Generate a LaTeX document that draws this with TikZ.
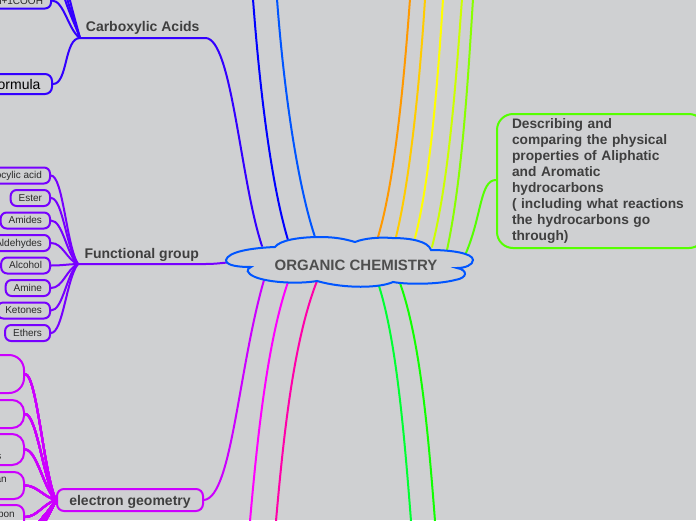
\documentclass[tikz,border=0pt]{standalone}
\usepackage{fontspec}
\setmainfont{Liberation Sans}
\usetikzlibrary{calc}
\definecolor{paper}{HTML}{CFD0D2}
\definecolor{ink}{HTML}{3F3F3F}
\definecolor{leafink}{HTML}{2A2A2A}
\definecolor{cloudblue}{HTML}{0055FF}
\definecolor{acidblue}{HTML}{3300FF}
\definecolor{groupviolet}{HTML}{7700FF}
\definecolor{geompurple}{HTML}{CC00FF}
\definecolor{physgreen}{HTML}{55FF00}
\definecolor{lineorange}{HTML}{FF9900}
\definecolor{lineamber}{HTML}{FFCC00}
\definecolor{lineyellow}{HTML}{FFFF00}
\definecolor{linelime}{HTML}{CCFF00}
\definecolor{linegrass}{HTML}{88FF00}
\definecolor{linemagenta}{HTML}{FF00FF}
\definecolor{linepink}{HTML}{FF00AA}
\definecolor{linegreen}{HTML}{00FF33}
\definecolor{linegreenb}{HTML}{11FF00}
\tikzset{
	conn/.style = {line width = 2pt, line cap = round},
	leaf/.style = {draw, line width = 2pt, rounded corners = 6pt, anchor = east, minimum height = 16pt, inner xsep = 8pt, inner ysep = 0pt, text height = 8pt, text depth = 2pt, text = leafink, font = \fontsize{10}{12}\selectfont},
	branch/.style = {anchor = south west, minimum width = 125pt, text height = 10pt, text depth = 3pt, inner xsep = 0pt, inner ysep = 3.5pt, text = ink, font = \bfseries\fontsize{14}{16}\selectfont},
	geombox/.style = {draw = geompurple, line width = 2pt, anchor = east, minimum width = 80pt, inner sep = 0pt},
	crop/.style = {anchor = east, inner sep = 0pt, text = leafink, font = \fontsize{10}{12}\selectfont}
}
\newcommand\child[3]{\draw[conn, #1] (#2) .. controls +(12, 0) and ($(#3)!0.2!(#2) + (-6, 0)$) .. (#3);}
\newcommand\topline[6]{\draw[conn, color = #1] (#2, -1) .. controls (#3, 80) and (#4, 180) .. (#5, #6);}
\begin{document}
\begin{tikzpicture}[x = 1pt, y = -1pt]
	\useasboundingbox (0, 0) rectangle (696, 520);
	\clip (0, 0) rectangle (696, 520);
	\fill[paper] (0, 0) rectangle (696, 520);

	\node[branch] (acids) at (80, 38) {Carboxylic Acids};
	\node[branch, minimum width = 127pt, inner ysep = 2.8pt] (func) at (78, 264) {Functional group};
	\node[draw = geompurple, line width = 2pt, rounded corners = 7pt, minimum width = 146pt, minimum height = 22pt, inner sep = 0pt, text height = 13pt, text depth = 3pt, text = ink, font = \bfseries\fontsize{14}{16}\selectfont] (elec) at (130, 500) {electron geometry};
	\node[draw = physgreen, line width = 2pt, rounded corners = 16pt, anchor = north west, minimum width = 208pt, minimum height = 134pt, text width = 178pt, inner xsep = 15pt, inner ysep = 0pt, align = left, text = ink, font = \bfseries\fontsize{13.75}{16}\selectfont] (phys) at (496, 113) {Describing and\\comparing the physical\\properties of Aliphatic\\and Aromatic\\hydrocarbons\\( including what reactions\\the hydrocarbons go\\through)};

	\node[leaf, draw = acidblue, text height = 9pt] (cooh) at (52, 0.5) {CnH2n+1COOH};
	\node[leaf, draw = acidblue, rounded corners = 7pt, minimum height = 20pt, inner xsep = 11.5pt, text = black, text height = 13pt, text depth = 3pt, font = \fontsize{14}{16}\selectfont] (formula) at (53, 84) {Formula};
	\coordinate (acida) at (63, -8);
	\coordinate (acidb) at (65.5, -8);
	\coordinate (acidc) at (68, -8);

	\node[leaf, draw = groupviolet] (carbo) at (51, 175.5) {Carbocylic acid};
	\node[leaf, draw = groupviolet] (ester) at (51, 198) {Ester};
	\node[leaf, draw = groupviolet] (amides) at (51, 220.5) {Amides};
	\node[leaf, draw = groupviolet] (aldehydes) at (51, 243) {Aldehydes};
	\node[leaf, draw = groupviolet] (alcohol) at (51, 265.5) {Alcohol};
	\node[leaf, draw = groupviolet] (amine) at (51, 288) {Amine};
	\node[leaf, draw = groupviolet] (ketones) at (51, 310.5) {Ketones};
	\node[leaf, draw = groupviolet] (ethers) at (51, 333) {Ethers};

	\node[geombox, rounded corners = 15pt, minimum height = 38pt] (geoma) at (25, 374) {};
	\node[geombox, rounded corners = 12pt, minimum height = 28pt] (geomb) at (25, 414) {};
	\node[geombox, rounded corners = 12pt, minimum height = 31pt] (geomc) at (25, 449.5) {};
	\node[geombox, rounded corners = 10pt, minimum height = 27pt] (geomd) at (25, 485.5) {};
	\node[geombox, rounded corners = 8pt, minimum height = 24pt] (geome) at (25, 517) {};
	\node[crop] (geomctext) at (1.5, 457) {s};
	\node[crop] (geomdtext) at (7, 480) {an};
	\node[crop] (geometext) at (15, 514) {Carbon};
	\coordinate (geomf) at (28, 545);
	\coordinate (geomg) at (32, 545);
	\coordinate (geomh) at (36, 545);

	\child{color = acidblue}{cooh.east}{acids.south west}
	\draw[conn, color = acidblue] (formula.east) .. controls (68, 84) and (64, 38) .. (acids.south west);
	\foreach \n in {acida, acidb, acidc}
		\draw[conn, color = acidblue] (\n) .. controls +(3, 14) and ($(acids.south west)!0.3!(\n)$) .. (acids.south west);
	\foreach \n in {carbo, ester, amides, aldehydes, alcohol, amine, ketones, ethers}
		\child{color = groupviolet}{\n.east}{func.south west}
	\foreach \n in {geoma, geomb, geomc, geomd, geome}
		\child{color = geompurple}{\n.east}{elec.west}
	\foreach \n in {geomf, geomg, geomh}
		\draw[conn, color = geompurple] (\n) .. controls +(8, -25) and ($(elec.west)!0.4!(\n)$) .. (elec.west);

	\draw[conn, color = acidblue] (acids.south west) -- (acids.south east) .. controls (232, 38) and (240, 180) .. (262, 246);
	\draw[conn, color = groupviolet] (func.south west) -- (func.south east) .. controls (215, 264) and (222, 263) .. (232, 262);
	\topline{blue}{253}{259}{270}{288}{240}
	\topline{cloudblue}{277}{283}{296}{315}{237}
	\topline{lineorange}{410}{404}{395}{378}{237}
	\topline{lineamber}{425}{420}{410}{396}{237}
	\topline{lineyellow}{443}{438}{430}{415}{238}
	\topline{linelime}{462}{456}{449}{432}{247}
	\topline{linegrass}{473}{468}{462}{447}{250}
	\draw[conn, color = physgreen] (phys.west |- 0, 180) .. controls (480, 180) and (482, 215) .. (466, 253);
	\draw[conn, color = geompurple] (elec.east) .. controls (232, 497) and (238, 370) .. (264, 280);
	\draw[conn, color = linemagenta] (250, 521) .. controls (258, 430) and (268, 340) .. (288, 282);
	\draw[conn, color = linepink] (276, 521) .. controls (284, 430) and (294, 340) .. (317, 281);
	\draw[conn, color = linegreen] (411, 521) .. controls (404, 430) and (396, 340) .. (379, 286);
	\draw[conn, color = linegreenb] (435, 521) .. controls (428, 430) and (420, 340) .. (400, 283);

	\draw[line width = 2pt, draw = cloudblue, fill = paper] (226, 260) .. controls (228, 252) and (250, 248) .. (275, 247)
		.. controls (280, 240) and (300, 237) .. (320, 237) .. controls (335, 237) and (345, 239) .. (355, 242)
		.. controls (365, 238) and (380, 237) .. (392, 238) .. controls (410, 238) and (428, 241) .. (431, 250)
		.. controls (450, 250) and (473, 253) .. (473, 260) .. controls (473, 265) and (465, 268) .. (457, 268)
		.. controls (468, 270) and (468, 278) .. (455, 280) .. controls (440, 284) and (410, 285) .. (393, 282)
		.. controls (380, 288) and (345, 289) .. (317, 281) .. controls (300, 284) and (270, 283) .. (255, 277)
		.. controls (246, 273) and (246, 269) .. (251, 267) .. controls (240, 267) and (226, 266) .. (226, 260) -- cycle;
	\node[inner sep = 0pt, text = ink!90!paper, font = \bfseries\fontsize{15}{17}\selectfont] (organic) at (356, 265.2) {ORGANIC CHEMISTRY};
\end{tikzpicture}
\end{document}
